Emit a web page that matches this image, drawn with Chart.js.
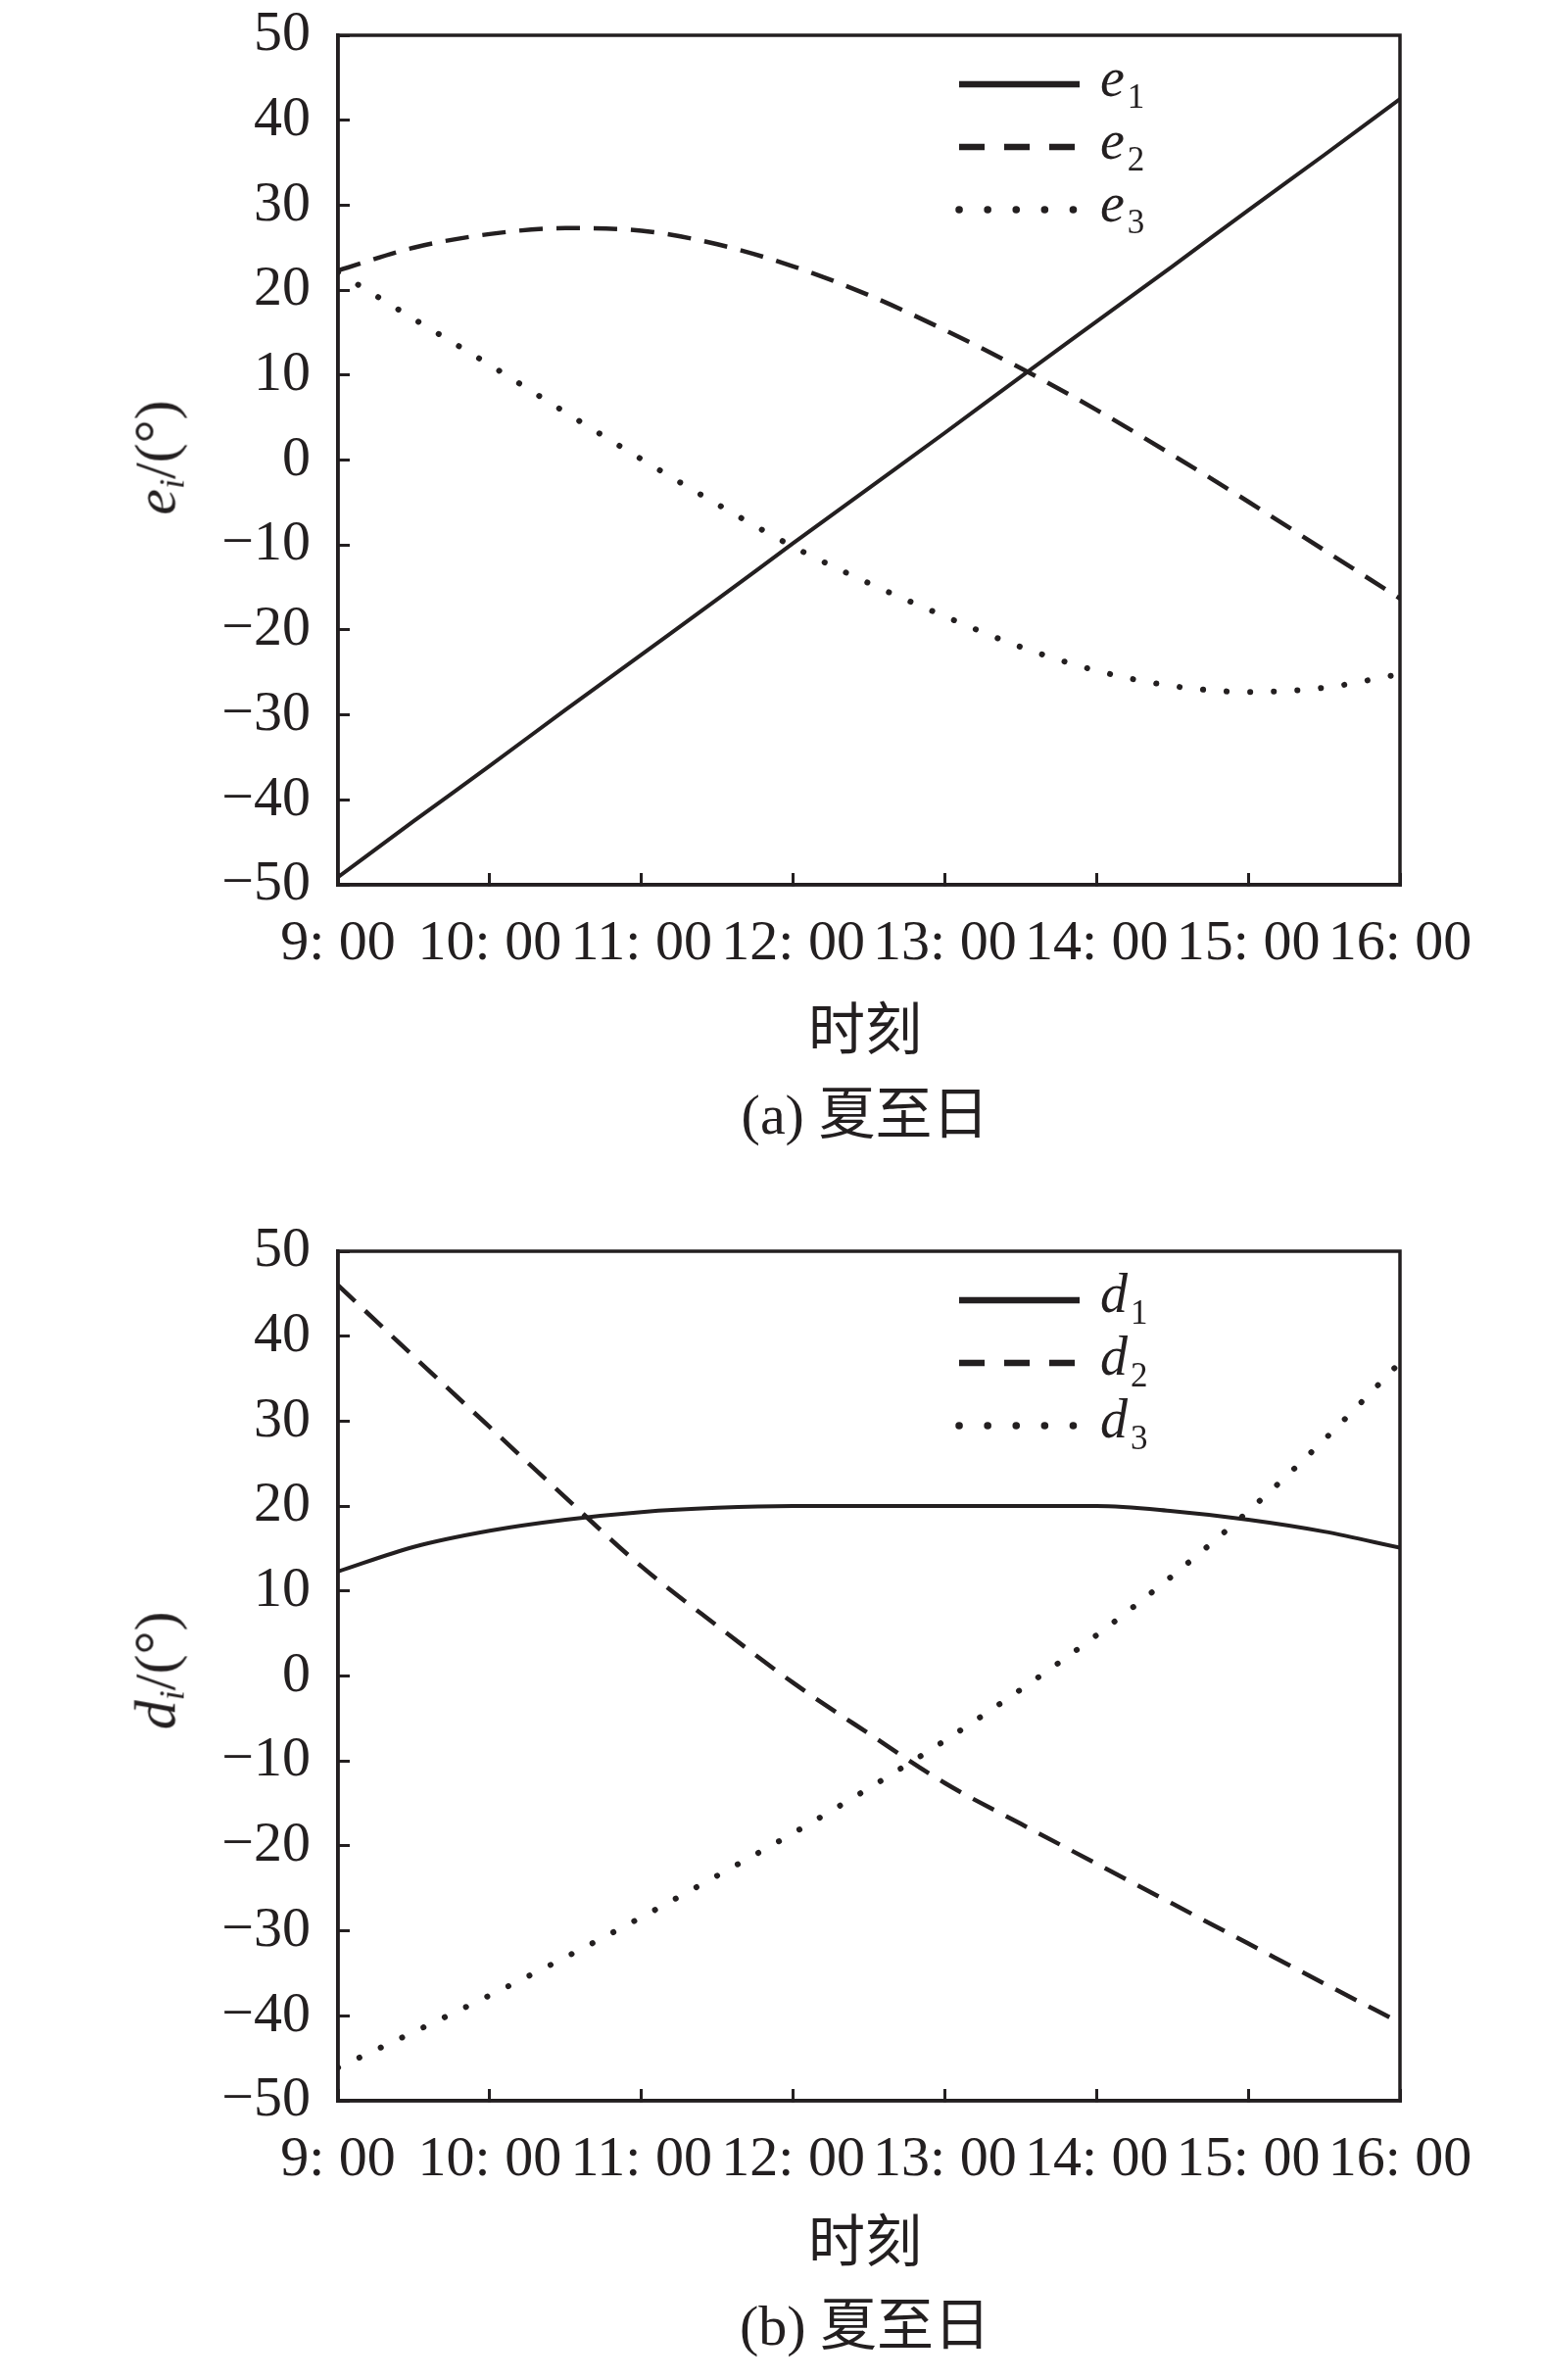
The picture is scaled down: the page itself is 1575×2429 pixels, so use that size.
<!DOCTYPE html>
<html>
<head>
<meta charset="utf-8">
<script src="https://cdn.jsdelivr.net/npm/chart.js@4.4.1/dist/chart.umd.min.js"></script>
<style>
  body { margin: 0; background: #fff; width: 1575px; height: 2429px; position: relative; overflow: hidden;
         font-family: "Liberation Serif", "Noto Sans CJK SC", serif; color: #231f20; }
  .box { position: absolute; left: 0; width: 1575px; height: 1000px; }
  .txt { position: absolute; font-size: 58px; line-height: 1; white-space: nowrap; transform: translate(-50%, -50%); }
  .ytitle { position: absolute; font-size: 60px; line-height: 1; white-space: nowrap; transform: translate(-50%, -50%) rotate(-90deg); }
  .ytitle sub { font-size: 0.6em; vertical-align: -0.25em; }
</style>
</head>
<body>
<div class="box" style="top:0"><canvas id="chartA" width="1575" height="1000"></canvas></div>
<div class="box" style="top:1241px"><canvas id="chartB" width="1575" height="1000"></canvas></div>

<div class="ytitle" style="left:161px; top:467px"><i>e</i><sub><i>i</i></sub>/(°)</div>
<div class="txt" style="left:883px; top:1052px">时刻</div>
<div class="txt" style="left:883px; top:1138px">(a) 夏至日</div>

<div class="ytitle" style="left:161px; top:1705px"><i>d</i><sub><i>i</i></sub>/(°)</div>
<div class="txt" style="left:883px; top:2289px">时刻</div>
<div class="txt" style="left:883px; top:2374px">(b) 夏至日</div>

<script>
const INK = '#231f20';

// time of day in hours
const times = [9, 9.5, 10, 10.5, 11, 11.5, 12, 12.5, 13, 13.5, 14, 14.5, 15, 15.5, 16];
const xTickLabels = ['9: 00', '10: 00', '11: 00', '12: 00', '13: 00', '14: 00', '15: 00', '16: 00'];

// (a) e_i
const e1 = [-49.1, -42.5, -36.0, -29.4, -22.9, -16.4, -9.8, -3.3, 3.2, 9.8, 16.3, 22.8, 29.4, 35.9, 42.5];
const e2 = [22.3, 25.0, 26.6, 27.3, 27.0, 25.4, 22.8, 19.4, 15.3, 10.8, 5.9, 0.6, -4.9, -10.6, -16.3];
const e3 = [22.1, 16.6, 11.2, 5.6, 0.1, -5.2, -10.2, -14.5, -18.4, -22.0, -24.8, -26.6, -27.3, -26.8, -25.2];

// (b) d_i
const d1 = [12.3, 15.2, 17.1, 18.4, 19.3, 19.8, 20.0, 20.0, 20.0, 20.0, 20.0, 19.4, 18.4, 17.0, 15.1];
const d2 = [46.0, 37.6, 29.3, 21.0, 12.9, 5.9, -0.8, -6.8, -12.6, -17.4, -22.1, -26.8, -31.5, -36.2, -40.8];
const d3 = [-46.1, -41.9, -37.6, -33.1, -28.4, -23.5, -18.5, -13.2, -7.6, -1.6, 4.8, 11.8, 19.4, 27.8, 36.9];

// line styles: solid, dashed, dotted
const lineStyles = [
    { width: 4, dash: [], cap: 'butt' },
    { width: 4.5, dash: [24, 14], cap: 'butt' },
    { width: 6, dash: [0.1, 24], cap: 'round' }
];
const legendStyles = [
    { width: 6.5, dash: [], cap: 'butt' },
    { width: 6.5, dash: [26, 20], cap: 'butt' },
    { width: 7.5, dash: [0.1, 29], cap: 'round' }
];

// box frame + legend with subscripts
const framePlugin = {
    id: 'frameLegend',
    afterDraw(chart, args, opts) {
        const { ctx, chartArea: a } = chart;
        ctx.save();
        ctx.strokeStyle = INK;
        ctx.lineWidth = 3.5;
        ctx.setLineDash([]);
        ctx.strokeRect(a.left, a.top, a.right - a.left, a.bottom - a.top);

        const x0 = a.right - 450, x1 = a.right - 327;
        chart.data.datasets.forEach((ds, i) => {
            const y = a.top + 50 + i * 64;
            const st = legendStyles[i];
            ctx.beginPath();
            ctx.lineWidth = st.width;
            ctx.lineCap = st.cap;
            ctx.setLineDash(st.dash);
            ctx.moveTo(x0, y);
            ctx.lineTo(x1, y);
            ctx.stroke();
            ctx.setLineDash([]);

            ctx.fillStyle = INK;
            ctx.textAlign = 'left';
            ctx.textBaseline = 'alphabetic';
            ctx.font = 'italic 56px "Liberation Serif"';
            ctx.fillText(opts.letter, x1 + 21, y + 12);
            const w = ctx.measureText(opts.letter).width;
            ctx.font = '35px "Liberation Serif"';
            ctx.fillText(String(i + 1), x1 + 21 + w + 3, y + 24);
        });
        ctx.restore();
    }
};

function makeChart(canvasId, series, letter) {
    const datasets = series.map((vals, i) => ({
        label: letter + (i + 1),
        data: times.map((t, k) => ({ x: t, y: vals[k] })),
        borderColor: INK,
        borderWidth: lineStyles[i].width,
        borderDash: lineStyles[i].dash,
        borderCapStyle: lineStyles[i].cap,
        pointRadius: 0,
        fill: false,
        cubicInterpolationMode: 'monotone'
    }));

    const tickFont = { family: '"Liberation Serif"', size: 58 };

    return new Chart(document.getElementById(canvasId), {
        type: 'line',
        data: { datasets },
        plugins: [framePlugin],
        options: {
            responsive: false,
            animation: false,
            devicePixelRatio: 1,
            layout: { padding: { top: 36, right: 146, left: 0, bottom: 0 } },
            plugins: {
                legend: { display: false },
                tooltip: { enabled: false },
                frameLegend: { letter }
            },
            scales: {
                x: {
                    type: 'linear', min: 9, max: 16,
                    afterFit: s => { s.height = 97; s.paddingLeft = 0; s.paddingRight = 0; },
                    border: { display: true, color: INK, width: 3.5 },
                    grid: { drawOnChartArea: false, drawTicks: true, tickLength: -12, color: INK, lineWidth: 3 },
                    ticks: {
                        stepSize: 1, autoSkip: false, maxRotation: 0, padding: 38,
                        color: INK, font: tickFont,
                        callback: v => xTickLabels[v - 9]
                    }
                },
                y: {
                    min: -50, max: 50,
                    afterFit: s => { s.width = 345; s.paddingTop = 0; s.paddingBottom = 0; },
                    border: { display: true, color: INK, width: 3.5 },
                    grid: { drawOnChartArea: false, drawTicks: true, tickLength: -12, color: INK, lineWidth: 3 },
                    ticks: {
                        stepSize: 10, padding: 40, color: INK, font: tickFont,
                        callback: v => (v < 0 ? '\u2212' + Math.abs(v) : String(v))
                    }
                }
            }
        }
    });
}

makeChart('chartA', [e1, e2, e3], 'e');
makeChart('chartB', [d1, d2, d3], 'd');
</script>
</body>
</html>
